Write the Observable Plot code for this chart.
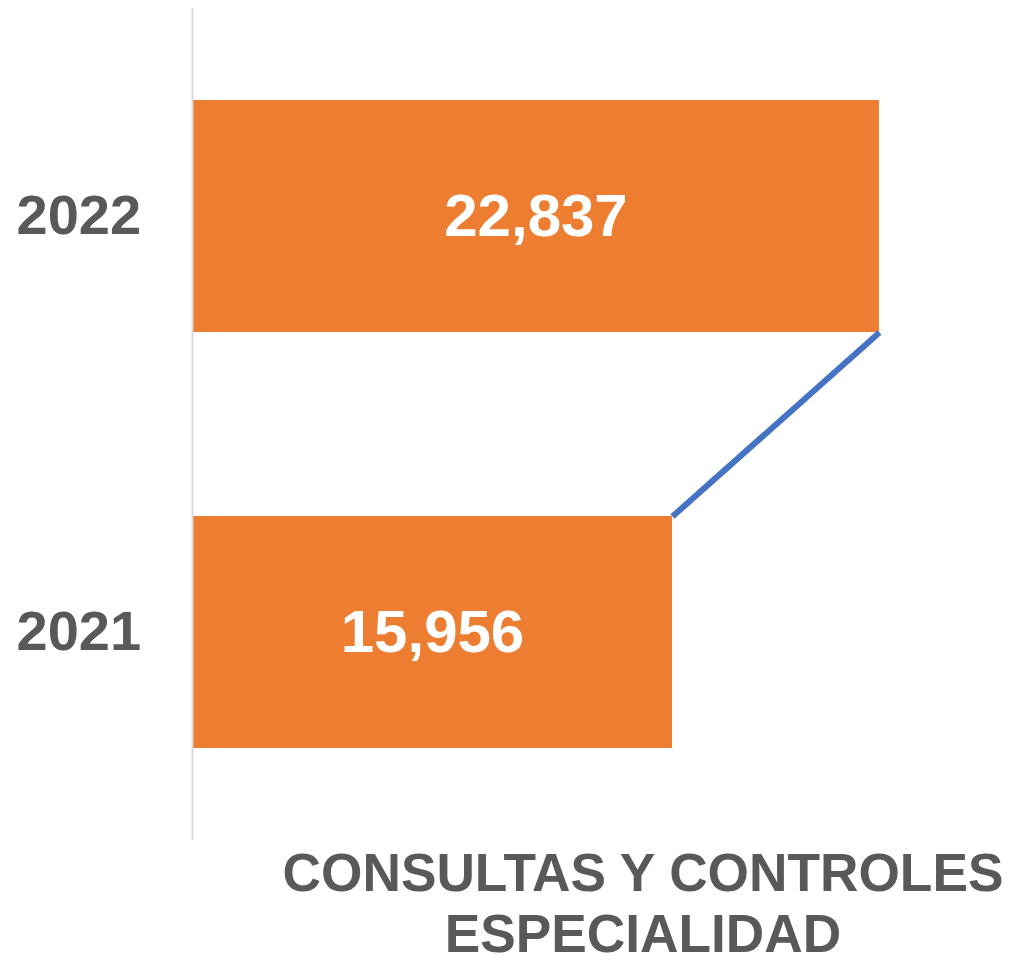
<!DOCTYPE html>
<html><head><meta charset="utf-8">
<script src="https://cdn.jsdelivr.net/npm/d3@7"></script>
<script src="https://cdn.jsdelivr.net/npm/@observablehq/plot@0.6"></script>
<style>
body{margin:0;background:#fff;font-family:"Liberation Sans",Arial,sans-serif;position:relative;width:1009px;height:963px;overflow:hidden}
#chart svg{display:block;font-family:"Liberation Sans",Arial,sans-serif}
.tl{position:absolute;left:643px;transform:translateX(-50%) scaleX(0.986);transform-origin:center;white-space:nowrap;text-align:center;font-weight:bold;font-size:54px;line-height:48px;height:48px;color:#595959}
</style>
</head><body>
<div id="chart"></div>
<div id="t1" class="tl" style="top:848px"></div>
<div id="t2" class="tl" style="top:909px"></div>
<script>
const years = ["2022", "2021"];
const values = [22837, 15956];
const titleLines = ["CONSULTAS Y CONTROLES", "ESPECIALIDAD"];

const data = years.map((y, i) => ({year: y, value: values[i]}));
const linkData = [{from: years[0], to: years[1], x1: values[0], x2: values[1]}];

const plot = Plot.plot({
  width: 1009,
  height: 850,
  marginTop: 8,
  marginBottom: 10,
  marginLeft: 192,
  marginRight: 65,
  x: {domain: [0, 25000], axis: null},
  y: {domain: years, paddingInner: 0.442, paddingOuter: 0.221, axis: null},
  marks: [
    Plot.barX(data, {x: "value", y: "year", fill: "#ED7D31"}),
    Plot.ruleX([0], {stroke: "#d9d9d9", strokeWidth: 2}),
    Plot.link(linkData, {
      x1: "x1", x2: "x2", y1: "from", y2: "to",
      stroke: "#4472C4", strokeWidth: 6,
      render(index, scales, vals, dims, ctx, next) {
        const bw = scales.y && scales.y.bandwidth ? scales.y.bandwidth() : 0;
        const y1 = Array.from(vals.y1, v => v + bw / 2);
        const y2 = Array.from(vals.y2, v => v - bw / 2);
        return next(index, scales, {...vals, y1, y2}, dims, ctx);
      }
    }),
    Plot.text(data, {
      x: d => d.value / 2, y: "year",
      text: d => d3.format(",")(d.value),
      fill: "white", fontSize: 60, fontWeight: "bold"
    }),
    Plot.axisY({tickSize: 0, tickPadding: 176, textAnchor: "start", fontSize: 56, fontWeight: "bold", fill: "#595959", label: null})
  ]
});
document.getElementById("chart").appendChild(plot);
document.getElementById("t1").textContent = titleLines[0];
document.getElementById("t2").textContent = titleLines[1];
</script>
</body></html>
